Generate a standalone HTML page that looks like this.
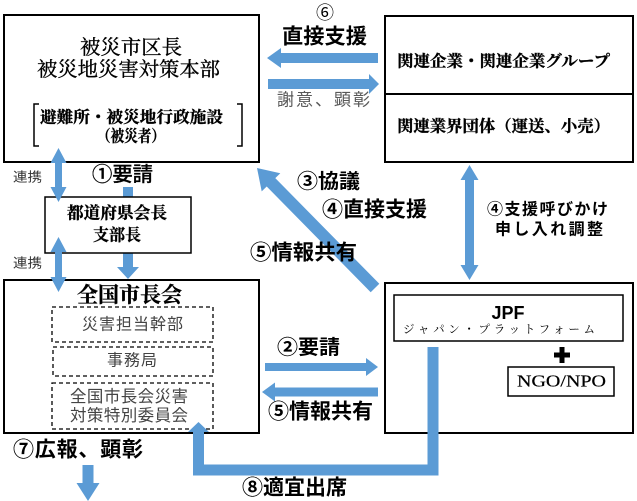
<!DOCTYPE html>
<html><head><meta charset="utf-8">
<style>
html,body{margin:0;padding:0;background:#fff;}
svg{display:block;}
.sr{font-family:"Liberation Serif","Noto Serif CJK SC",serif;}
.ss{font-family:"Liberation Sans","Noto Sans CJK JP",sans-serif;}
</style></head>
<body>
<svg width="637" height="501" viewBox="0 0 637 501" xmlns="http://www.w3.org/2000/svg">
<rect x="0" y="0" width="637" height="501" fill="#fff"/>

<!-- Boxes -->
<rect x="4" y="15" width="255" height="147" fill="#fff" stroke="#000" stroke-width="2"/>
<path d="M39,104 H34 V146 H39" fill="none" stroke="#000" stroke-width="1.5"/>
<path d="M237,104 H242 V146 H237" fill="none" stroke="#000" stroke-width="1.5"/>

<rect x="385" y="16" width="248" height="146" fill="#fff" stroke="#000" stroke-width="2"/>
<line x1="385" y1="94" x2="633" y2="94" stroke="#000" stroke-width="2"/>

<rect x="4" y="280" width="255" height="153" fill="#fff" stroke="#000" stroke-width="2"/>
<rect x="52" y="307" width="161" height="35" fill="none" stroke="#000" stroke-width="1.3" stroke-dasharray="4,3"/>
<rect x="53" y="347" width="160" height="29" fill="none" stroke="#000" stroke-width="1.3" stroke-dasharray="4,3"/>
<rect x="52" y="383" width="161" height="46" fill="none" stroke="#000" stroke-width="1.3" stroke-dasharray="4,3"/>

<rect x="385" y="283" width="248" height="150" fill="#fff" stroke="#000" stroke-width="2"/>
<rect x="394" y="295" width="229" height="46" fill="#fff" stroke="#000" stroke-width="1.5"/>
<rect x="508" y="367" width="106" height="29" fill="#fff" stroke="#000" stroke-width="1.5"/>
<!-- plus -->
<rect x="554" y="352.5" width="16" height="5" fill="#000"/>
<rect x="559.5" y="347" width="5" height="16" fill="#000"/>

<g fill="#5b9bd5">
<polygon points="123,187 133,187 133,267 139,267 128,279 117,267 123,267"/>
</g>

<rect x="45" y="197" width="146" height="56" fill="#fff" stroke="#000" stroke-width="1.5"/>

<g fill="#5b9bd5">
<polygon points="267,58 281,48 281,53 378,53 378,63 281,63 281,68"/>
<polygon points="379,84 369,74 369,79 268,79 268,89 369,89 369,94"/>
<polygon points="58.5,148 66.5,163 62,163 62,187 66.5,187 58.5,202 50.5,187 55,187 55,163 50.5,163"/>
<polygon points="58.5,237 66.5,252 62,252 62,277 66.5,277 58.5,292 50.5,277 55,277 55,252 50.5,252"/>
<polygon points="257,168 280.3,173.2 275.3,178.1 379.3,283.8 370.7,292.2 266.7,186.5 261.7,191.4"/>
<polygon points="469.5,165 478.5,180 474,180 474,265 478.5,265 469.5,280 460.5,265 465,265 465,180 460.5,180"/>
<polygon points="378,367 366,358 366,363 265,363 265,371 366,371 366,376"/>
<polygon points="262,392 275,382.5 275,387.5 378,387.5 378,396.5 275,396.5 275,401.5"/>
<polygon points="427.5,347 438.5,347 438.5,475.5 193,475.5 193,432 188,432 198.5,422 209,432 204,432 204,464.5 427.5,464.5"/>
<polygon points="82.5,465 93.5,465 93.5,483 99.5,483 88,501 76.5,483 82.5,483"/>
</g>

<g class="sr" fill="#000" stroke="#000" stroke-width="0.35" dominant-baseline="central">
<text x="80" y="48" font-size="20" textLength="102" lengthAdjust="spacingAndGlyphs">被災市区長</text>
<text x="37" y="70" font-size="20" textLength="183" lengthAdjust="spacingAndGlyphs">被災地災害対策本部</text>
<text x="40" y="118" font-size="16" font-weight="bold" textLength="183" lengthAdjust="spacingAndGlyphs">避難所・被災地行政施設</text>
<text x="97" y="137" font-size="16" font-weight="bold" textLength="68" lengthAdjust="spacingAndGlyphs">（被災者）</text>
<text x="397" y="62" font-size="16" font-weight="bold" textLength="213" lengthAdjust="spacingAndGlyphs">関連企業・関連企業グループ</text>
<text x="397" y="127" font-size="16" font-weight="bold" textLength="213" lengthAdjust="spacingAndGlyphs">関連業界団体（運送、小売）</text>
<text x="67" y="213" font-size="16.5" font-weight="bold" textLength="100" lengthAdjust="spacingAndGlyphs">都道府県会長</text>
<text x="93" y="235" font-size="16.5" font-weight="bold" textLength="48" lengthAdjust="spacingAndGlyphs">支部長</text>
<text x="77" y="295" font-size="21" font-weight="bold" textLength="105" lengthAdjust="spacingAndGlyphs">全国市長会</text>
<text x="517" y="381" font-size="17" stroke-width="0.2" textLength="89" lengthAdjust="spacingAndGlyphs">NGO/NPO</text>
</g>
<g class="sr" fill="#000" dominant-baseline="central">
<text x="403" y="330" font-size="11.5" textLength="192" lengthAdjust="spacing">ジャパン・プラットフォーム</text>
</g>

<g class="ss" fill="#000" dominant-baseline="central">
<text x="508" y="313" font-size="18" font-weight="bold" text-anchor="middle" font-family="Liberation Sans, sans-serif">JPF</text>
<text x="325" y="13" font-size="18" text-anchor="middle">⑥</text>
<text x="282" y="37" font-size="21" font-weight="bold" textLength="85" lengthAdjust="spacingAndGlyphs">直接支援</text>
<text x="277" y="100" font-size="17" fill="#595959" textLength="93" lengthAdjust="spacing">謝意、顕彰</text>
<text x="13" y="177" font-size="13" fill="#333" textLength="29" lengthAdjust="spacingAndGlyphs">連携</text>
<text x="13" y="263" font-size="13" fill="#333" textLength="29" lengthAdjust="spacingAndGlyphs">連携</text>
<text x="92" y="175" font-size="20" font-weight="500" stroke="#000" stroke-width="0.3" textLength="61" lengthAdjust="spacingAndGlyphs">①要請</text>
<text x="82" y="325" font-size="16" fill="#444" textLength="101" lengthAdjust="spacing">災害担当幹部</text>
<text x="107" y="361" font-size="16" fill="#444" textLength="50" lengthAdjust="spacing">事務局</text>
<text x="70" y="397" font-size="16.5" fill="#444" textLength="118" lengthAdjust="spacing">全国市長会災害</text>
<text x="70" y="416" font-size="16.5" fill="#444" textLength="118" lengthAdjust="spacing">対策特別委員会</text>
<text x="13" y="450" font-size="21" font-weight="bold" textLength="130" lengthAdjust="spacing">⑦広報、顕彰</text>
<text x="277" y="348" font-size="20" font-weight="bold" textLength="63" lengthAdjust="spacingAndGlyphs">②要請</text>
<text x="268" y="412" font-size="21" font-weight="bold" textLength="105" lengthAdjust="spacingAndGlyphs">⑤情報共有</text>
<text x="297" y="182" font-size="20" font-weight="bold" textLength="63" lengthAdjust="spacingAndGlyphs">③協議</text>
<text x="322" y="210" font-size="21" font-weight="bold" textLength="105" lengthAdjust="spacingAndGlyphs">④直接支援</text>
<text x="250" y="253" font-size="21" font-weight="bold" textLength="107" lengthAdjust="spacingAndGlyphs">⑤情報共有</text>
<text x="487" y="210" font-size="16" font-weight="bold" textLength="121" lengthAdjust="spacing">④支援呼びかけ</text>
<text x="495" y="230" font-size="16" font-weight="bold" textLength="108" lengthAdjust="spacing">申し入れ調整</text>
<text x="242" y="488" font-size="21" font-weight="bold" textLength="105" lengthAdjust="spacingAndGlyphs">⑧適宜出席</text>
</g>
</svg>
</body></html>
